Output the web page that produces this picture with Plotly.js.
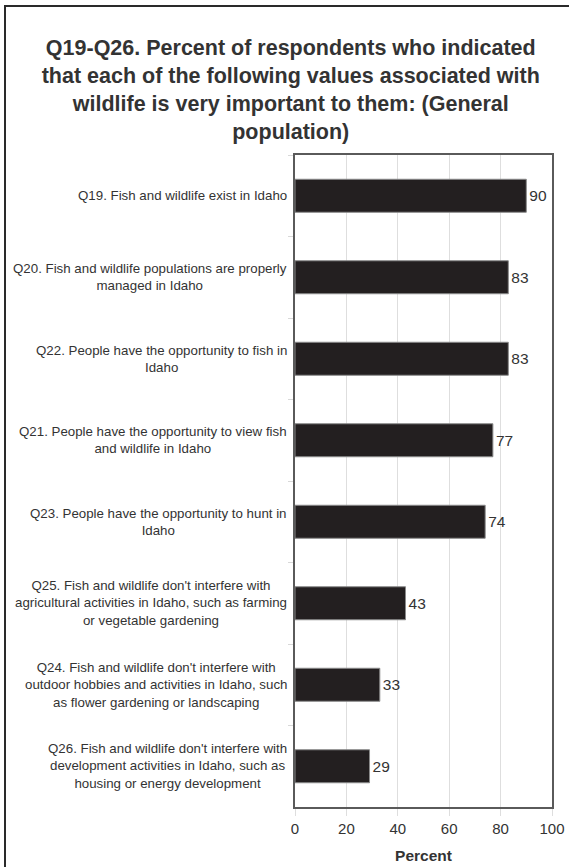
<!DOCTYPE html>
<html>
<head>
<meta charset="utf-8">
<script src="https://cdn.plot.ly/plotly-3.0.1.min.js"></script>
<style>
  html, body { margin: 0; padding: 0; background: #fff; }
  #chart { width: 569px; height: 867px; position: absolute; left: 0; top: 0; }
  #frame { position: absolute; left: 4px; top: 5px; width: 600px; height: 900px;
           border-left: 2px solid #2a2a2a; border-top: 2px solid #2a2a2a; pointer-events: none; }
</style>
</head>
<body>
<div id="chart"></div>
<div id="frame"></div>
<script>
const titleText = "Q19-Q26. Percent of respondents who indicated<br>that each of the following values associated with<br>wildlife is very important to them: (General<br>population)";

const categories = [
  "Q19. Fish and wildlife exist in Idaho",
  "Q20. Fish and wildlife populations are properly<br>managed in Idaho",
  "Q22. People have the opportunity to fish in<br>Idaho",
  "Q21. People have the opportunity to view fish<br>and wildlife in Idaho",
  "Q23. People have the opportunity to hunt in<br>Idaho",
  "Q25. Fish and wildlife don't interfere with<br>agricultural activities in Idaho, such as farming<br>or vegetable gardening",
  "Q24. Fish and wildlife don't interfere with<br>outdoor hobbies and activities in Idaho, such<br>as flower gardening or landscaping",
  "Q26. Fish and wildlife don't interfere with<br>development activities in Idaho, such as<br>housing or energy development"
];

const values = [90, 83, 83, 77, 74, 43, 33, 29];

const xTickVals = [0, 20, 40, 60, 80, 100];
const xTickText = ["0", "20", "40", "60", "80", "100"];
const xTitle = "Percent";

const FONT = "Liberation Sans, Arial, sans-serif";
const TEXT = "#333333";

const trace = {
  type: "bar",
  orientation: "h",
  x: values,
  y: categories,
  width: 0.405,
  marker: { color: "#231f20", line: { color: "#8a8a8a", width: 1 } },
  text: values.map(String),
  textposition: "outside",
  textfont: { family: FONT, size: 15.5, color: TEXT },
  cliponaxis: false,
  hoverinfo: "skip"
};

const annotations = categories.map(c => ({
  xref: "paper", yref: "y",
  x: 0, y: c,
  xanchor: "right", yanchor: "middle",
  xshift: -6,
  align: "center",
  showarrow: false,
  text: c,
  font: { family: FONT, size: 13.3, color: TEXT }
}));

const layout = {
  width: 569, height: 867,
  margin: { l: 295, r: 17, t: 155, b: 60 },
  paper_bgcolor: "#ffffff",
  plot_bgcolor: "#ffffff",
  showlegend: false,
  title: {
    text: titleText,
    font: { family: FONT, size: 21.5, color: TEXT, weight: "bold" },
    x: 0.511, xanchor: "center", xref: "container",
    y: 1 - 55 / 867, yanchor: "top", yref: "container"
  },
  xaxis: {
    range: [0, 100],
    tickvals: xTickVals,
    ticktext: xTickText,
    showgrid: true,
    gridcolor: "#dedede",
    gridwidth: 1,
    zeroline: false,
    showline: true,
    mirror: true,
    linecolor: "#5a5a5a",
    linewidth: 2,
    ticks: "outside",
    ticklen: 7,
    tickcolor: "#dedede",
    tickfont: { family: FONT, size: 15, color: TEXT },
    title: { text: xTitle, font: { family: FONT, size: 15.5, color: TEXT, weight: "bold" }, standoff: 14 },
    fixedrange: true
  },
  yaxis: {
    type: "category",
    autorange: "reversed",
    showticklabels: false,
    showgrid: false,
    zeroline: false,
    showline: true,
    mirror: true,
    linecolor: "#5a5a5a",
    linewidth: 2,
    ticks: "outside",
    tickson: "boundaries",
    ticklen: 5,
    tickcolor: "#d8d8d8",
    fixedrange: true
  },
  bargap: 0.6,
  annotations: annotations
};

Plotly.newPlot("chart", [trace], layout, { displayModeBar: false, staticPlot: true });
</script>
</body>
</html>
